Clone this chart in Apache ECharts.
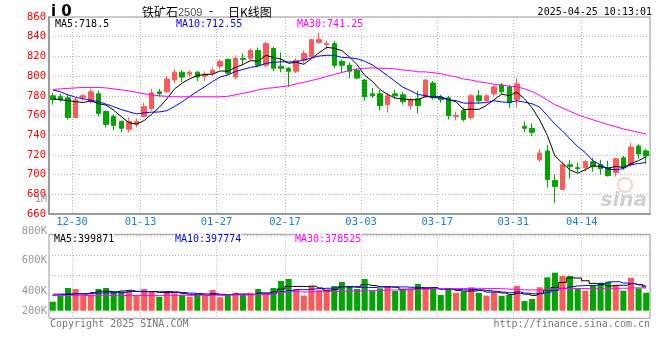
<!DOCTYPE html>
<html><head><meta charset="utf-8">
<script src="https://cdn.jsdelivr.net/npm/echarts/dist/echarts.min.js"></script>
<style>html,body{margin:0;padding:0;background:#fff}#c{width:660px;height:360px}</style>
</head><body><div id="c"></div>
<script>
// ---- data ----
const dates = ['12-26','12-27','12-30','12-31','01-02','01-03','01-06','01-07','01-08','01-09','01-10','01-13','01-14','01-15','01-16','01-17','01-20','01-21','01-22','01-23','01-24','01-27','02-05','02-06','02-07','02-10','02-11','02-12','02-13','02-14','02-17','02-18','02-19','02-20','02-21','02-24','02-25','02-26','02-27','02-28','03-03','03-04','03-05','03-06','03-07','03-10','03-11','03-12','03-13','03-14','03-17','03-18','03-19','03-20','03-21','03-24','03-25','03-26','03-27','03-28','03-31','04-01','04-02','04-03','04-07','04-08','04-09','04-10','04-11','04-14','04-15','04-16','04-17','04-18','04-21','04-22','04-23','04-24','04-25'];
const opens  = [780,779,778,758,778,774,782,764,759,754,746,751,759,767,784,784,796,804,802,804,800,803,810,817,799,818,818,826,811,828,810,808,805,816,820,834,832,833,815,811,806,796,782,782,771,782,781,770,777,779,793,778,778,759,765,758,780,775,782,791,789,776,749,747,715,724,694,685,710,707,707,713,710,707,702,717,710,729,724];
const closes = [776,776,758,776,780,784,762,751,750,747,754,754,769,783,782,797,804,799,804,799,802,806,815,803,818,817,826,811,833,808,808,805,816,823,837,837,833,811,811,805,798,779,780,770,780,780,774,776,770,796,778,776,760,760,756,780,775,780,789,784,773,792,747,743,722,695,688,710,708,706,713,708,706,699,716,707,728,721,719];
const lows   = [771,774,756,757,775,772,759,748,745,743,743,748,758,765,779,783,793,794,799,795,795,800,807,801,797,811,815,809,809,805,804,789,803,813,818,833,827,808,804,798,797,775,778,765,763,777,771,766,762,778,776,773,756,755,754,756,772,773,780,781,768,768,743,739,713,687,671,684,696,702,703,703,700,698,698,705,708,716,711];
const highs  = [783,782,781,778,782,787,785,765,761,755,758,757,773,787,787,800,807,806,806,805,805,809,817,818,821,823,828,829,835,830,824,809,818,826,838,844,836,836,817,814,808,797,788,786,783,786,784,778,785,797,795,781,780,764,768,782,786,782,791,793,791,798,754,752,726,730,700,713,715,712,715,717,715,714,717,719,732,731,726];
const volumes = [279000,329000,400000,391000,329000,344000,391000,400000,367000,367000,373000,338000,391000,373000,323000,367000,353000,338000,323000,338000,
  332000,382000,318000,338000,358000,338000,358000,391000,338000,400000,461000,479000,391000,332000,417000,382000,382000,
  417000,453000,411000,391000,479000,373000,397000,411000,373000,391000,382000,435000,
  397000,397000,338000,397000,358000,367000,406000,358000,329000,358000,329000,338000,417000,285000,303000,406000,494000,534000,505000,505000,397000,376000,417000,446000,453000,426000,376000,490000,397000,358000];
const ma5Head  = [777,776,775,774];
const ma10Head = [786,784,781,778.5,777,775.5,774,771.5,769];
const ma30Head = [786.5,787,787.5,788,788.5,788.5,788.5,788,787,786,785,783.5,782,781,780,779.5,779,779,779,779,779,779,779,779.5,781,782.5,784,786,787.5];
const vma5Head  = [335000,340000,345000,350000];
const vma10Head = [345000,346000,347000,348000,350000,352000,355000,357000,358000];
const vma30Head = [333000,333000,333000,333000,333000,333000,333000,333000,333000,333000,334000,334000,334000,334000,335000,335000,335000,336000,336000,336000,337000,337000,338000,338000,339000,340000,341000,342000,343000];
const dateLabels = ['12-30','01-13','01-27','02-17','03-03','03-17','03-31','04-14'];
const priceMin = 660, priceMax = 860, priceStep = 20;
const volTickLabels = ['800K','600K','400K','200K'];

// ---- helpers ----
function movingAvg(vals, n, head) {
  return vals.map((v, i) => {
    if (i < n - 1) return head[i];
    let s = 0; for (let k = i - n + 1; k <= i; k++) s += vals[k];
    return +(s / n).toFixed(2);
  });
}
const ma5 = movingAvg(closes, 5, ma5Head), ma10 = movingAvg(closes, 10, ma10Head), ma30 = movingAvg(closes, 30, ma30Head);
const vma5 = movingAvg(volumes, 5, vma5Head), vma10 = movingAvg(volumes, 10, vma10Head), vma30 = movingAvg(volumes, 30, vma30Head);
const kData = dates.map((d, i) => [opens[i], closes[i], lows[i], highs[i]]);
const labeled = new Set(dates.map((d, i) => dateLabels.includes(d) ? i : -1).filter(i => i >= 0));
const UP = '#ff5a5a', DOWN = '#00a400';
const mono = "'DejaVu Sans Mono','Liberation Mono',monospace";
const GL = 49, GW = 601;
const gridLine = { show: true, interval: (idx) => labeled.has(idx - 1), lineStyle: { color: '#b4b4b4', type: [1, 2], width: 1 } };

const chart = echarts.init(document.getElementById('c'), null, { renderer: 'canvas' });
const txt = (x, y, s, color, extra) => Object.assign({ type: 'text', x: x, y: y, silent: true, z: 100,
  style: Object.assign({ text: s, fill: color, font: '10px ' + mono, textVerticalAlign: 'middle' }, extra || {}) });

chart.setOption({
  animation: false,
  grid: [
    { left: GL, width: GW, top: 17, height: 197, show: true, borderColor: '#9a9a9a', borderWidth: 1 },
    { left: GL, width: GW, top: 234.3, height: 76.4 },
    { left: GL, width: GW, top: 234.3, height: 84, show: true, borderColor: '#9a9a9a', borderWidth: 1 },
    { left: GL, width: GW, top: 235.5, height: 60 }
  ],
  xAxis: [
    { type: 'category', gridIndex: 0, data: dates, boundaryGap: true,
      axisLine: { show: true, lineStyle: { color: '#9a9a9a', width: 2 } }, axisTick: { show: false },
      axisLabel: { interval: (idx, v) => labeled.has(idx), color: '#1a80d6', fontFamily: mono, fontSize: 10.5, margin: 3, padding: [0, 0, 0, 8] },
      splitLine: gridLine },
    { type: 'category', gridIndex: 1, data: dates, boundaryGap: true, show: false },
    { type: 'category', gridIndex: 2, data: dates, boundaryGap: true,
      axisLine: { show: false }, axisTick: { show: false }, axisLabel: { show: false }, splitLine: gridLine },
    { type: 'category', gridIndex: 3, data: dates, boundaryGap: true, show: false }
  ],
  yAxis: [
    { type: 'value', gridIndex: 0, min: priceMin, max: priceMax, interval: priceStep,
      axisLine: { show: true, lineStyle: { color: '#9a9a9a', width: 2 } }, axisTick: { show: false },
      axisLabel: { color: '#f00', fontFamily: mono, fontSize: 10.5, margin: 3 },
      splitLine: { show: true, lineStyle: { color: '#b4b4b4', type: [1, 2] } } },
    { type: 'value', gridIndex: 1, min: 200000, max: 872000, show: false, splitLine: { show: false } },
    { type: 'value', gridIndex: 2, min: 0, max: 1, show: false, splitLine: { show: false } },
    { type: 'value', gridIndex: 3, min: 0, max: 60, interval: 20, axisLine: { show: false }, axisTick: { show: false },
      axisLabel: { show: false }, splitLine: { show: true, lineStyle: { color: '#b4b4b4', type: [1, 2] } } }
  ],
  series: [
    { type: 'candlestick', xAxisIndex: 0, yAxisIndex: 0, data: kData, barWidth: 5,
      itemStyle: { color: UP, color0: DOWN, borderColor: UP, borderColor0: DOWN, borderWidth: 1 }, z: 3 },
    { type: 'line', xAxisIndex: 0, yAxisIndex: 0, data: ma5, showSymbol: false, lineStyle: { color: '#000', width: 1 }, z: 4, silent: true },
    { type: 'line', xAxisIndex: 0, yAxisIndex: 0, data: ma10, showSymbol: false, lineStyle: { color: '#0000ff', width: 1 }, z: 4, silent: true },
    { type: 'line', xAxisIndex: 0, yAxisIndex: 0, data: ma30, showSymbol: false, lineStyle: { color: '#ff00ff', width: 1 }, z: 4, silent: true },
    { type: 'bar', xAxisIndex: 1, yAxisIndex: 1, data: volumes, barWidth: 6,
      itemStyle: { color: (p) => closes[p.dataIndex] >= opens[p.dataIndex] ? UP : DOWN }, z: 3 },
    { type: 'line', xAxisIndex: 1, yAxisIndex: 1, data: vma5, step: 'middle', showSymbol: false, lineStyle: { color: '#000', width: 1 }, z: 4, silent: true },
    { type: 'line', xAxisIndex: 1, yAxisIndex: 1, data: vma10, step: 'middle', showSymbol: false, lineStyle: { color: '#0000ff', width: 1 }, z: 4, silent: true },
    { type: 'line', xAxisIndex: 1, yAxisIndex: 1, data: vma30, step: 'middle', showSymbol: false, lineStyle: { color: '#ff00ff', width: 1 }, z: 4, silent: true }
  ],
  graphic: [
    { type: 'text', x: 51, y: 12, silent: true, style: { text: 'i 0', fill: '#000', font: 'bold 15px "DejaVu Sans"', textVerticalAlign: 'middle' } },
    { type: 'text', x: 142, y: 12, silent: true, style: { text: '铁矿石', fill: '#000', font: '12px "Noto Sans CJK SC"', textVerticalAlign: 'middle' } },
    { type: 'text', x: 178, y: 13, silent: true, style: { text: '2509', fill: '#555', font: '11px "Liberation Sans"', textVerticalAlign: 'middle' } },
    { type: 'text', x: 209, y: 12, silent: true, style: { text: '-', fill: '#000', font: '12px "Liberation Sans"', textVerticalAlign: 'middle' } },
    { type: 'text', x: 228, y: 12, silent: true, style: { text: '日K线图', fill: '#000', font: '12px "Noto Sans CJK SC"', textVerticalAlign: 'middle' } },
    txt(652, 12, '2025-04-25 10:13:01', '#000', { textAlign: 'right' }),
    txt(55, 24, 'MA5:718.5', '#000', { backgroundColor: '#fff' }),
    txt(176, 24, 'MA10:712.55', '#0000ff', { backgroundColor: '#fff' }),
    txt(297, 24, 'MA30:741.25', '#ff00ff', { backgroundColor: '#fff' }),
    txt(54, 239, 'MA5:399871', '#000', { backgroundColor: '#fff' }),
    txt(175, 239, 'MA10:397774', '#0000ff', { backgroundColor: '#fff' }),
    txt(295, 239, 'MA30:378525', '#ff00ff', { backgroundColor: '#fff' }),
    txt(47, 199, '1M', '#999', { textAlign: 'right' }),
    txt(47, 231, volTickLabels[0], '#999', { textAlign: 'right', font: '10.5px ' + mono }),
    txt(47, 260, volTickLabels[1], '#999', { textAlign: 'right', font: '10.5px ' + mono }),
    txt(47, 291, volTickLabels[2], '#999', { textAlign: 'right', font: '10.5px ' + mono }),
    txt(47, 311, volTickLabels[3], '#999', { textAlign: 'right', font: '10.5px ' + mono }),
    txt(50, 324, 'Copyright 2025 SINA.COM', '#777'),
    txt(650, 324, 'http://finance.sina.com.cn', '#777', { textAlign: 'right' }),
    { type: 'text', x: 647, y: 201, silent: true, z: 1, style: { text: 'sina', fill: 'rgba(150,150,150,0.45)', font: 'italic bold 20px "DejaVu Sans"', textAlign: 'right', textVerticalAlign: 'middle' } },
    { type: 'circle', shape: { cx: 625, cy: 185, r: 7 }, silent: true, z: 1, style: { fill: 'none', stroke: 'rgba(240,120,120,0.35)', lineWidth: 2 } }
  ]
});
</script></body></html>
